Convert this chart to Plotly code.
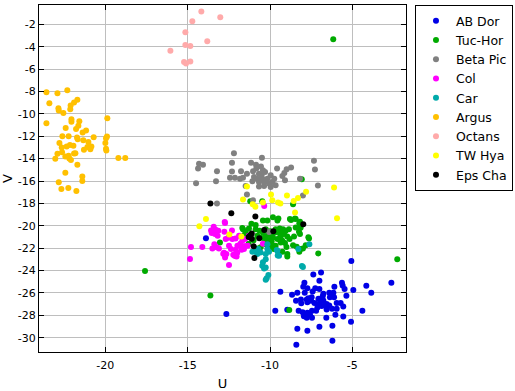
import plotly.graph_objects as go

ab_dor_u = [-5.06, -7.37, -6.90, -7.00, -7.91, -7.98, -7.73, -7.41, -7.25, -7.00, -9.37, -8.66, -8.34, -7.89,
            -6.09, -5.63, -5.59, -5.47, -4.94, -4.15, -3.85, -2.63, -6.76, -6.40, -6.36, -6.11, -6.15, -5.36,
            -5.95, -5.71, -5.55, -5.95, -8.42, -8.12, -8.10, -7.77, -7.73, -7.51, -7.47, -7.67, -7.06, -6.96,
            -6.76, -6.56, -7.06, -6.66, -6.40, -6.23, -9.68, -8.95, -8.26, -8.02, -7.73, -7.45, -7.57, -7.94,
            -7.77, -7.45, -7.12, -6.86, -6.56, -6.03, -5.55, -6.58, -7.00, -6.21, -5.08, -4.39, -8.34, -7.73,
            -8.40, -6.21, -13.89, -12.65, -7.30, -6.80, -7.20]
ab_dor_v = [-23.14, -24.35, -24.17, -24.92, -25.10, -25.46, -25.58, -25.88, -25.58, -25.64, -25.90, -26.17, -25.99, -25.99,
            -25.46, -25.10, -25.34, -25.64, -25.73, -25.37, -25.99, -25.10, -26.08, -25.99, -26.38, -26.38, -25.99, -26.26,
            -26.89, -26.89, -27.21, -27.42, -26.71, -26.59, -26.92, -26.59, -26.83, -26.71, -26.38, -26.47, -26.53, -26.83,
            -26.68, -26.98, -27.12, -27.12, -27.12, -27.42, -27.60, -27.51, -27.60, -27.72, -27.78, -27.60, -27.96, -28.08,
            -28.23, -28.23, -27.30, -27.18, -27.48, -27.96, -28.11, -28.23, -29.03, -28.94, -28.58, -27.60, -29.21, -29.39,
            -30.64, -30.28, -21.12, -27.89, -26.90, -26.30, -27.60]

tuc_hor_u = [-6.16, -11.13, -10.87, -10.43, -10.16, -9.82, -9.55, -9.49, -8.72, -8.44, -8.18, -8.14,
             -11.64, -11.48, -11.56, -11.28, -10.87, -10.63, -10.43, -10.26, -10.10, -9.90, -9.66, -9.41, -9.21, -9.05, -8.85,
             -10.77, -10.57, -10.26, -10.02, -9.82, -9.55, -9.35, -9.15, -8.95, -8.81, -9.25, -9.09,
             -8.54, -8.24, -8.44, -8.18, -7.63, -8.60, -8.14, -8.00, -7.83,
             -9.35, -9.66, -9.90, -10.02, -9.76, -9.49, -9.25, -8.95, -8.95, -7.07, -13.04,
             -10.77, -10.57, -10.26, -13.62, -8.83, -11.68, -8.38, -8.22, -8.60, -8.07, -10.47, -11.20,
             -7.67, -8.79, -8.48, -8.22, -2.27, -17.59, -9.70, -10.00, -9.40, -9.90, -10.30, -9.00, -11.00, -11.30]
tuc_hor_v = [-3.34, -19.82, -19.94, -19.52, -19.52, -19.23, -19.52, -19.35, -19.49, -19.40, -19.64, -20.18,
             -20.30, -20.54, -20.83, -20.24, -20.30, -20.45, -20.60, -20.30, -20.74, -20.83, -20.30, -20.24, -20.30, -20.45, -20.30,
             -20.89, -21.04, -20.95, -21.25, -21.04, -21.19, -20.95, -20.74, -20.95, -21.19, -21.34, -21.55,
             -20.95, -20.54, -20.15, -20.74, -21.13, -21.73, -22.08, -22.02, -21.73,
             -21.49, -21.79, -21.73, -21.93, -22.08, -22.38, -22.32, -22.53, -22.74, -22.47, -21.49,
             -22.02, -21.93, -21.64, -26.22, -27.53, -20.20, -21.87, -22.32, -18.08, -15.85, -17.80, -17.80,
             -21.03, -19.40, -19.34, -19.78, -23.00, -24.05, -20.60, -20.50, -20.70, -21.40, -21.30, -21.90, -21.30, -21.60]

beta_pic_u = [-12.19, -14.31, -14.07, -14.37, -12.31, -10.49, -11.15, -10.85, -10.55, -13.22, -12.31, -11.76,
              -11.40, -12.43, -12.13, -11.82, -11.64, -11.03, -10.83, -10.43, -10.30, -10.67, -10.97, -10.77,
              -10.47, -11.07, -10.67, -10.36, -10.16, -9.96, -9.74, -10.06, -10.67, -10.36, -9.96, -9.66,
              -11.48, -9.57, -8.72, -8.99, -9.13, -9.25, -9.09, -7.33, -7.27, -8.18, -7.09, -8.00, -13.28,
              -14.49, -11.40, -11.03, -13.22, -10.51, -9.86, -10.05]
beta_pic_v = [-13.52, -14.45, -14.54, -14.89, -14.36, -13.91, -14.36, -14.54, -14.71, -15.13, -15.16, -15.13,
              -15.34, -15.70, -15.70, -15.79, -15.70, -15.13, -14.89, -15.04, -15.19, -15.34, -15.64, -15.79,
              -15.79, -16.02, -16.08, -16.08, -15.79, -15.49, -15.79, -16.23, -16.50, -16.44, -16.53, -16.38,
              -16.44, -14.89, -14.80, -14.95, -15.28, -15.55, -15.93, -14.18, -14.98, -15.79, -16.41, -17.30, -16.02,
              -16.20, -17.21, -17.72, -18.02, -15.49, -16.08, -20.55]

col_u = [-12.73, -13.42, -13.58, -13.54, -13.30, -13.14, -13.34, -13.18, -12.77, -12.31, -12.69, -12.53, -12.29,
         -12.09, -11.88, -11.68, -11.52, -13.38, -13.24, -13.50, -13.10, -12.49, -12.37, -11.98, -11.78, -12.08,
         -11.72, -12.79, -12.65, -12.73, -12.15, -12.03, -14.80, -14.11, -14.86, -12.49, -11.28, -11.36, -10.43,
         -11.58, -10.35, -12.75, -12.23, -12.08, -11.99, -12.84, -12.79, -11.30, -11.50, -11.80]
col_v = [-19.76, -20.09, -20.42, -20.65, -20.36, -20.45, -20.74, -20.89, -20.54, -20.42, -21.19, -21.07, -21.19,
         -21.13, -20.89, -21.34, -21.19, -21.64, -21.93, -22.02, -22.02, -21.79, -22.08, -21.79, -21.73, -22.14,
         -22.14, -22.53, -22.53, -22.83, -22.68, -22.74, -21.90, -21.90, -22.98, -23.51, -20.89, -21.79, -21.61,
         -22.08, -18.24, -19.67, -22.60, -22.70, -22.40, -22.50, -22.40, -21.00, -21.80, -21.60]

car_u = [-11.07, -10.87, -10.77, -10.57, -10.71, -10.16, -10.06, -10.26, -10.16, -9.55, -9.45, -10.26, -10.43,
         -10.47, -10.26, -10.36, -10.10, -10.20, -10.26, -8.00, -7.61, -8.28, -9.59, -9.53, -8.06]
car_v = [-22.32, -22.32, -22.53, -22.38, -22.08, -22.08, -22.32, -22.53, -21.64, -22.23, -22.68, -23.00, -23.27,
         -23.57, -23.72, -23.81, -24.40, -24.70, -24.82, -23.69, -21.66, -22.08, -22.17, -22.65, -23.60]

argus_u = [-23.58, -22.91, -22.31, -23.40, -22.85, -22.83, -22.55, -22.11, -21.90, -21.70, -22.13, -23.58, -22.06,
           -22.06, -21.58, -22.41, -21.78, -21.64, -21.17, -21.38, -22.61, -22.23, -21.72, -21.68, -21.34, -20.71,
           -22.79, -22.65, -22.35, -22.15, -21.94, -21.03, -20.85, -21.09, -20.91, -21.30, -22.91, -22.63, -22.43,
           -22.23, -21.90, -21.82, -22.19, -22.09, -23.04, -21.70, -22.43, -21.40, -21.40, -22.83, -22.67, -22.25,
           -21.76, -19.88, -19.90, -19.96, -20.00, -19.96, -19.94, -19.21, -18.79]
argus_v = [-8.06, -8.15, -7.88, -9.04, -9.49, -9.70, -9.93, -9.25, -8.98, -8.74, -9.58, -10.83, -10.47,
           -10.71, -10.65, -11.27, -11.36, -11.07, -11.48, -11.66, -11.99, -11.99, -12.11, -12.26, -12.35, -12.08,
           -12.61, -13.00, -12.91, -12.79, -12.85, -12.52, -12.91, -12.97, -13.15, -13.21, -13.57, -13.42, -13.80,
           -13.74, -13.54, -13.51, -13.98, -14.13, -14.01, -14.55, -15.26, -15.59, -16.00, -16.10, -16.72, -16.63,
           -16.90, -10.38, -12.02, -12.17, -12.61, -13.12, -13.27, -13.95, -13.95]

octans_u = [-16.05, -15.14, -14.72, -14.17, -13.02, -13.81, -15.14, -14.84, -15.22, -15.10, -14.84]
octans_v = [-4.36, -2.71, -1.73, -0.84, -1.37, -3.52, -3.85, -3.94, -5.37, -5.49, -5.31]

tw_hya_u = [-11.40, -11.64, -11.05, -10.89, -10.43, -9.94, -9.86, -9.51, -9.37, -8.97, -8.56, -8.30, -7.81,
            -6.11, -8.48, -13.89, -5.93, -14.29, -12.47, -11.74]
tw_hya_v = [-16.50, -17.66, -18.08, -18.29, -17.93, -17.21, -17.72, -17.93, -18.02, -17.30, -17.78, -17.51, -16.95,
            -16.59, -18.82, -19.39, -19.33, -20.05, -20.77, -20.95]

eps_cha_u = [-13.62, -12.35, -10.89, -7.98, -10.35, -9.80, -11.11, -11.30, -11.11, -10.65, -10.99, -10.95, -11.20]
eps_cha_v = [-18.00, -18.89, -19.16, -19.87, -20.38, -20.50, -20.70, -21.00, -21.15, -21.12, -21.84, -22.88, -20.85]

x_tick_vals = [-20, -15, -10, -5]
x_tick_text = ["-20", "-15", "-10", "-5"]
y_tick_vals = [-30, -28, -26, -24, -22, -20, -18, -16, -14, -12, -10, -8, -6, -4, -2]
y_tick_text = ["-30", "-28", "-26", "-24", "-22", "-20", "-18", "-16", "-14", "-12", "-10", "-8", "-6", "-4", "-2"]

groups = [
    ("AB Dor", ab_dor_u, ab_dor_v, "rgb(0,0,230)"),
    ("Tuc-Hor", tuc_hor_u, tuc_hor_v, "rgb(0,170,0)"),
    ("Beta Pic", beta_pic_u, beta_pic_v, "rgb(128,128,128)"),
    ("Col", col_u, col_v, "rgb(255,0,255)"),
    ("Car", car_u, car_v, "rgb(0,170,170)"),
    ("Argus", argus_u, argus_v, "rgb(255,192,0)"),
    ("Octans", octans_u, octans_v, "rgb(255,170,170)"),
    ("TW Hya", tw_hya_u, tw_hya_v, "rgb(255,255,0)"),
    ("Eps Cha", eps_cha_u, eps_cha_v, "rgb(0,0,0)"),
]

fig = go.Figure()
for name, u, v, col in groups:
    fig.add_trace(go.Scatter(x=u, y=v, mode="markers", name=name,
                             marker=dict(color=col, size=6, line=dict(width=0))))

axis_common = dict(showline=True, linecolor="black", linewidth=1, mirror="ticks",
                   ticks="inside", ticklen=5, tickcolor="black", showgrid=True,
                   gridcolor="rgb(190,190,190)", gridwidth=1, zeroline=False, automargin=False,
                   tickfont=dict(family="DejaVu Sans", size=11, color="black"))

fig.update_xaxes(range=[-24.03, -1.74], tickvals=x_tick_vals, ticktext=x_tick_text,
                 ticklabelstandoff=3,
                 title=dict(text="U", font=dict(family="DejaVu Sans", size=13, color="black"), standoff=8),
                 **axis_common)
fig.update_yaxes(range=[-31.28, -0.27], tickvals=y_tick_vals, ticktext=y_tick_text,
                 title=dict(text="V", font=dict(family="DejaVu Sans", size=13, color="black"), standoff=6),
                 **axis_common)

fig.update_layout(
    width=515, height=391,
    margin=dict(l=39, r=109, t=5, b=39, autoexpand=False),
    plot_bgcolor="white", paper_bgcolor="white",
    legend=dict(x=1.0245, y=1.0, xanchor="left", yanchor="top",
                bordercolor="black", borderwidth=1, bgcolor="white",
                font=dict(family="DejaVu Sans", size=12.5, color="black")),
)

fig.write_html("out.html", config={"displayModeBar": False},
               post_script="document.body.style.margin='0px';document.body.style.overflow='hidden';")
